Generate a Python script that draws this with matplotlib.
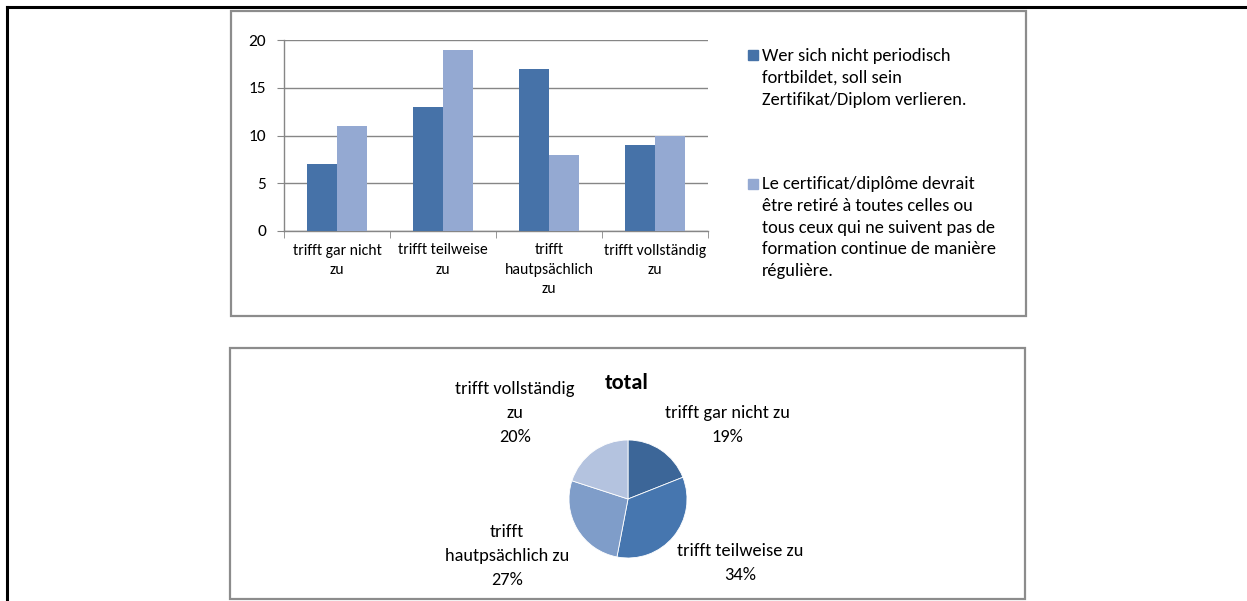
import matplotlib
matplotlib.use("Agg")
import matplotlib.pyplot as plt
from matplotlib.patches import Rectangle
from matplotlib.lines import Line2D
import numpy as np

plt.rcParams['font.family'] = ['Carlito', 'Lato', 'DejaVu Sans']

categories = ["trifft gar nicht\nzu", "trifft teilweise\nzu", "trifft\nhautpsächlich\nzu", "trifft vollständig\nzu"]
series_de = [7, 13, 17, 9]
series_fr = [11, 19, 8, 10]
legend_labels = ["Wer sich nicht periodisch\nfortbildet, soll sein\nZertifikat/Diplom verlieren.",
                 "Le certificat/diplôme devrait\nêtre retiré à toutes celles ou\ntous ceux qui ne suivent pas de\nformation continue de manière\nrégulière."]
pie_labels = ["trifft gar nicht zu", "trifft teilweise zu", "trifft\nhautpsächlich zu", "trifft vollständig\nzu"]
pie_values = [19, 34, 27, 20]
yticks = [0, 5, 10, 15, 20]

W, H = 1247, 601
fig = plt.figure(figsize=(W / 100, H / 100), dpi=100)

def fx(x):
    return x / W

def fy(y):
    return 1 - y / H

# page border lines
fig.add_artist(Line2D([fx(7), fx(1247)], [fy(7), fy(7)], color='black', lw=2.2))
fig.add_artist(Line2D([fx(7), fx(7)], [fy(7), fy(601)], color='black', lw=2.2))

# chart boxes
for (x0, y0, x1, y1) in [(231, 11, 1026, 316), (230, 348, 1025, 599)]:
    fig.add_artist(Rectangle((fx(x0), fy(y1)), fx(x1) - fx(x0), fy(y0) - fy(y1),
                             fill=False, edgecolor='#8c8c8c', lw=1.6))

# bar chart
grid_c = '#868686'
ax = fig.add_axes([fx(284), fy(231), fx(708) - fx(284), fy(40) - fy(231)])
x = np.arange(len(categories))
bw = 0.283
dark = '#4672A8'
light = '#94A9D2'
ax.bar(x - bw / 2, series_de, bw, color=dark, zorder=3)
ax.bar(x + bw / 2, series_fr, bw, color=light, zorder=3)
ax.set_xlim(-0.5, len(categories) - 0.5)
ax.set_ylim(0, 20)
ax.set_yticks(yticks)
ax.set_yticklabels([str(v) for v in yticks], fontsize=12.5)
ax.yaxis.grid(True, color=grid_c, lw=1, zorder=0)
ax.set_axisbelow(True)
ax.set_xticks(x)
ax.set_xticklabels(categories, fontsize=11.3, linespacing=1.49)
ax.set_xticks(np.arange(-0.5, len(categories)), minor=True)
ax.tick_params(axis='x', which='major', length=0, pad=9)
ax.tick_params(axis='x', which='minor', length=5, color=grid_c, direction='out')
ax.tick_params(axis='y', length=5, color=grid_c, pad=8)
for s in ['top', 'right']:
    ax.spines[s].set_visible(False)
for s in ['left', 'bottom']:
    ax.spines[s].set_color(grid_c)
    ax.spines[s].set_linewidth(1)
ax.patch.set_alpha(0)

# legend (manual, one text per line)
leg_items = [(50, 61, dark, legend_labels[0]), (179, 189, light, legend_labels[1])]
for (sq_top, base, c, txt) in leg_items:
    fig.add_artist(Rectangle((fx(748), fy(sq_top + 10)), fx(10), 10 / H, color=c))
    for i, line in enumerate(txt.split("\n")):
        fig.text(fx(762), fy(base + i * 21.8), line, fontsize=13.2, va='baseline', ha='left')

# pie chart
r = 59
cx, cy = 628, 499
pax = fig.add_axes([fx(cx - r), fy(cy + r), 2 * r / W, 2 * r / H])
pie_colors = ['#3C6698', '#4676AF', '#7F9DC9', '#B4C3DF']
pax.pie(pie_values, colors=pie_colors, startangle=90, counterclock=False,
        wedgeprops=dict(edgecolor='white', linewidth=0.6))
pax.set_aspect('auto')
pax.set_xlim(-1, 1)
pax.set_ylim(-1, 1)
pax.axis('off')

fig.text(fx(627), fy(389), "total", fontsize=16, fontweight='bold', ha='center', va='baseline')
pie_label_pos = [(727, 425), (740, 563), (507, 556), (515, 413)]
for lab, v, (px, py) in zip(pie_labels, pie_values, pie_label_pos):
    fig.text(fx(px), fy(py), f"{lab}\n{v}%", fontsize=13.2, ha='center', va='center', linespacing=1.6)

fig.savefig("out.png", dpi=100, facecolor='white')
